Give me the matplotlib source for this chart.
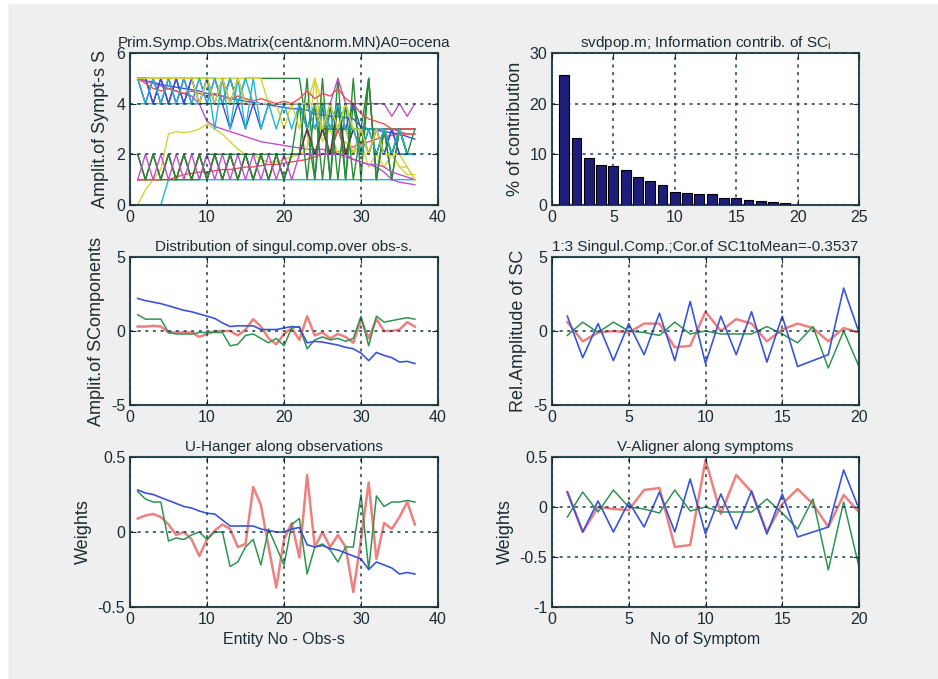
import numpy as np
import matplotlib
matplotlib.use("Agg")
import matplotlib.pyplot as plt
from matplotlib.patches import Rectangle

plt.rcParams["font.family"] = ["Liberation Sans", "DejaVu Sans"]
plt.rcParams["axes.unicode_minus"] = False
plt.rcParams["font.size"] = 11

# ---- data ----
obs = np.arange(1, 38)
sym = np.arange(1, 21)

# primary symptom-observation matrix, one list per symptom (20 x 37)
symptoms = [
    [5.0, 4.9, 4.85, 4.75, 4.7, 4.65, 4.6, 4.55, 4.5, 4.4, 4.35, 4.3, 4.2, 4.15, 4.1, 4.05, 4.0, 3.95, 3.9, 3.85, 3.8, 3.8, 3.75, 3.6, 3.55, 3.5, 3.5, 3.45, 3.4, 3.1, 3.0, 2.95, 2.9, 2.85, 2.8, 2.7, 2.6],
    [5, 5, 5, 5, 5, 5, 5, 5, 5, 5, 5, 4, 5, 4, 5, 5, 5, 5, 5, 5, 5, 5, 3, 1, 4, 1, 5, 1, 4, 2, 5, 1, 3, 2, 3, 2, 3],
    [1, 1, 1, 1, 1, 1.1, 1.2, 1.25, 1.3, 1.3, 1.35, 1.4, 1.4, 1.45, 1.5, 1.5, 1.55, 1.6, 1.6, 1.65, 1.7, 1.75, 1.8, 1.9, 2.0, 2.05, 2.1, 2.2, 2.3, 2.4, 2.5, 2.6, 2.7, 2.75, 2.8, 2.8, 2.8],
    [0, 0, 0, 0, 1, 1, 1, 1, 1, 1, 1, 1, 1, 1, 1, 1, 1, 1, 1, 1, 1, 1, 1, 1, 1, 1, 1, 1, 1, 1, 1, 1, 1, 1, 1, 1, 1],
    [5.0, 4.9, 4.8, 4.7, 4.6, 4.5, 4.4, 4.3, 4.0, 3.3, 3.1, 3.0, 2.9, 2.8, 2.7, 2.6, 2.5, 2.45, 2.4, 2.35, 2.3, 2.25, 2.2, 2.2, 2.2, 2.1, 2.0, 1.9, 1.8, 1.7, 1.6, 1.5, 1.3, 1.0, 0.9, 0.85, 0.8],
    [0, 0.6, 1.0, 1.4, 2.8, 2.9, 2.85, 2.9, 3.0, 3.2, 3.0, 2.8, 2.5, 2.2, 2.0, 2.0, 1.8, 1.7, 1.7, 1.8, 1.9, 2.0, 2.2, 5.0, 2.5, 3.0, 2.0, 2.5, 2.0, 2.5, 1.5, 2.0, 1.5, 2.0, 1.5, 1.2, 1.2],
    [5, 5, 4, 5, 4, 5, 4, 5, 4, 4, 4, 4, 4, 4, 4, 4, 4, 4, 4, 4, 4, 4, 3, 4, 3, 3, 3, 3, 3, 3, 3, 3, 3, 3, 3, 3, 3],
    [5, 4, 5, 4, 5, 4, 5, 4, 4, 5, 4, 4, 3, 4, 3, 4, 3, 4, 4, 4, 4, 4, 3, 2, 3, 2, 3, 3, 2, 3, 2, 3, 2, 3, 2, 2, 2],
    [1, 1, 1, 1, 1, 1, 1, 1, 1, 2, 2, 2, 2, 2, 2, 2, 2, 2, 2, 2, 2, 4, 1, 4, 1, 4, 1, 4, 1, 3, 5, 1, 3, 1, 3, 2, 2],
    [1, 1, 1, 1, 2, 1, 2, 1, 2, 1, 2, 1, 2, 1, 2, 1, 2, 1, 2, 1, 2, 2, 3, 2, 3, 2, 3, 2, 3, 3, 2, 3, 3, 2, 3, 3, 3],
    [4, 4, 4, 4, 4, 4, 4, 4, 4, 5, 3, 5, 3, 5, 3, 5, 3, 4, 3, 4, 3, 4, 3, 4, 3, 4, 3, 4, 3, 3, 3, 3, 3, 2, 3, 2, 2],
    [5, 4, 5, 4, 5, 4, 5, 4, 5, 4, 5, 4, 5, 4, 4, 4, 4, 4, 4, 4, 4, 4, 4, 4, 4, 4, 5, 4, 4, 4, 4, 4, 4, 3.5, 4, 3.5, 4],
    [5, 5, 5, 5, 5, 5, 5, 5, 5, 5, 5, 5, 5, 5, 5, 5, 5, 4, 4, 3, 4, 3, 4, 5, 4, 3, 4, 3, 2, 3, 2, 3, 2, 2, 1.5, 1.5, 1],
    [2, 1, 2, 1, 2, 1, 2, 1, 2, 1, 2, 1, 2, 1, 2, 1, 2, 1, 2, 1, 2, 2, 3, 2, 3, 2, 4, 2, 3, 2, 3, 2, 3, 2, 3, 2, 2],
    [5, 5, 4, 5, 4, 5, 4, 5, 4, 5, 4, 5, 4, 5, 4, 4, 4, 4, 4, 4, 4, 4, 4, 3, 4, 3, 4, 3, 4, 3, 2, 3, 2, 3, 2, 2, 2],
    [2, 1, 2, 1, 2, 1, 2, 1, 2, 1, 2, 1, 2, 1, 2, 1, 2, 1, 2, 1, 2, 2, 5, 1, 5, 1, 4, 1, 5, 1, 5, 1, 3, 1, 3, 2, 2],
    [5, 4.8, 4.6, 4.5, 4.6, 4.5, 4.4, 4.5, 4.4, 4.3, 4.4, 4.3, 4.2, 4.3, 4.2, 4.1, 4.2, 4.1, 4.0, 4.1, 4.0, 4.2, 4.5, 4.2, 4.4, 4.3, 4.6, 4.2, 4.0, 3.6, 3.4, 3.3, 3.2, 3.0, 2.9, 2.8, 2.8],
    [5, 4, 5, 4, 5, 4, 5, 4, 5, 4, 5, 4, 5, 4, 5, 4, 4, 4, 4, 4, 4, 4, 4, 3, 4, 3, 4, 3, 3, 2, 3, 2, 3, 2, 3, 2, 2],
    [1, 2, 1, 2, 1, 2, 1, 2, 1, 2, 1, 2, 1, 2, 1, 2, 1, 2, 1, 2, 1, 2, 2, 2, 2, 2, 2, 2, 1.8, 1.7, 1.6, 1.6, 1.5, 1.3, 1.2, 1.1, 1.0],
    [5, 5, 5, 5, 5, 5, 5, 5, 4, 5, 4, 5, 4, 5, 4, 4, 4, 4, 4, 4, 4, 4, 4, 4, 3, 4, 3, 4, 3, 3, 2, 3, 2, 2, 2, 1.5, 1.0],
]

contrib = [25.6, 13.2, 9.3, 7.8, 7.6, 6.9, 5.5, 4.8, 3.9, 2.6, 2.35, 2.1, 2.1, 1.3,
           1.3, 1.05, 0.8, 0.5, 0.3, 0.05]

sc1_obs = [2.2, 2.05, 1.95, 1.85, 1.7, 1.55, 1.4, 1.3, 1.15, 1.0, 0.85, 0.55, 0.3, 0.35,
           0.35, 0.35, 0.1, 0.1, 0.1, 0.2, 0.3, 0.25, -0.8, -0.7, -0.75, -0.85, -0.95,
           -1.1, -1.2, -1.5, -2.0, -1.45, -1.65, -1.8, -2.1, -2.05, -2.2]
sc2_obs = [1.1, 0.8, 0.8, 0.8, -0.1, -0.2, -0.2, -0.2, -0.1, -0.1, -0.1, -0.1, -1.0, -0.9,
           -0.3, -0.2, -0.5, -0.8, -0.5, -1.0, 0.2, 0.3, -1.2, -0.6, -0.4, -0.6, -0.5,
           -0.7, -0.5, 1.0, -1.0, 1.0, 0.6, 0.7, 0.8, 0.9, 0.8]
sc3_obs = [0.3, 0.3, 0.35, 0.3, -0.1, -0.1, -0.1, -0.1, -0.4, -0.2, 0.0, 0.0, 0.0, -0.3,
           0.1, 0.8, 0.3, -0.5, -0.9, -0.2, 0.2, -0.6, 1.0, -0.3, -0.1, -0.5, -0.2,
           -0.4, -0.8, 0.8, -0.5, 0.8, 0.0, 0.0, 0.1, 0.6, 0.3]

sc1_sym = [1.0, -1.8, 0.5, -2.0, 0.5, -1.6, 1.2, -2.0, 2.0, -2.2, 1.0, -1.6, 1.3, -2.1,
           1.0, -2.4, -2.0, -1.6, 2.9, -0.1]
sc2_sym = [-0.3, 0.6, -0.1, 0.6, 0.0, -0.1, -0.3, 0.6, -0.2, 0.0, -0.2, -0.2, -0.2, 0.3,
           -0.2, -0.8, 0.3, -2.5, 0.0, -2.4]
sc3_sym = [0.6, -0.7, -0.1, 0.0, -0.1, 0.5, 0.5, -1.1, -1.0, 1.3, 0.0, 0.8, 0.5, -0.7,
           0.1, 0.5, 0.2, -0.7, 0.2, -0.1]

u1 = [0.28, 0.26, 0.25, 0.23, 0.21, 0.19, 0.17, 0.16, 0.14, 0.125, 0.12, 0.08, 0.04, 0.04,
      0.04, 0.04, 0.02, 0.01, 0.0, 0.0, 0.02, 0.03, -0.085, -0.1, -0.09, -0.11, -0.12,
      -0.14, -0.16, -0.18, -0.25, -0.2, -0.22, -0.24, -0.28, -0.27, -0.28]
u2 = [0.27, 0.22, 0.2, 0.2, -0.06, -0.04, -0.05, -0.02, 0.0, -0.05, 0.0, 0.0, -0.23, -0.2,
      -0.1, -0.05, -0.22, 0.02, -0.1, -0.22, 0.05, 0.09, -0.28, -0.1, -0.08, -0.12, -0.2,
      -0.1, -0.1, 0.25, -0.25, 0.24, 0.17, 0.2, 0.2, 0.21, 0.2]
u3 = [0.09, 0.11, 0.12, 0.1, 0.05, -0.02, 0.0, -0.05, -0.16, -0.05, 0.01, 0.05, 0.02, -0.1,
      -0.08, 0.3, 0.18, -0.1, -0.37, -0.05, 0.06, -0.17, 0.38, -0.1, 0.0, -0.1, -0.02,
      -0.1, -0.4, -0.05, 0.33, -0.18, 0.06, 0.02, 0.1, 0.2, 0.05]

v1 = [0.15, -0.25, 0.06, -0.25, 0.05, -0.2, 0.15, -0.25, 0.28, -0.27, 0.13, -0.22, 0.16,
      -0.27, 0.13, -0.3, -0.25, -0.2, 0.37, -0.02]
v2 = [-0.1, 0.15, -0.05, 0.17, 0.0, -0.02, -0.06, 0.17, -0.04, 0.0, -0.05, -0.05, -0.05,
      0.08, -0.06, -0.22, 0.08, -0.63, 0.05, -0.6]
v3 = [0.15, -0.25, 0.0, -0.02, -0.03, 0.17, 0.19, -0.4, -0.38, 0.47, -0.07, 0.32, 0.15,
      -0.25, 0.03, 0.18, 0.03, -0.2, 0.12, -0.05]

# ---- styling ----
matlab_cycle = ["#3a50e0", "#2a8a3a", "#ec5050", "#20b8c8", "#c050c8", "#d4d430", "#404040"]
c_blue, c_green, c_red = "#3a55d8", "#2e9450", "#ee8080"
txt = "#1c2c34"
spine_c = "#2d4a50"
grid_c = "#1e3e4c"
ylab_size = 13

fig = plt.figure(figsize=(9.38, 6.79), dpi=100)
fig.patch.set_facecolor("#efefef")
fig.add_artist(Rectangle((0, 0), 7 / 938, 1, transform=fig.transFigure,
                         color="white", zorder=-1))
fig.add_artist(Rectangle((0, 1 - 3 / 679), 1, 3 / 679, transform=fig.transFigure,
                         color="white", zorder=-1))

W, H = 938, 679


def make_ax(x0, x1, y0, y1):
    return fig.add_axes([x0 / W, 1 - y1 / H, (x1 - x0) / W, (y1 - y0) / H])


def style(ax, xlim, xticks, ylim, yticks, ylabels=None):
    ax.set_xlim(xlim)
    ax.set_ylim(ylim)
    ax.set_xticks(xticks)
    ax.set_yticks(yticks)
    if ylabels is not None:
        ax.set_yticklabels(ylabels)
    ax.grid(True, linestyle=(0, (2, 3)), color=grid_c, linewidth=1.1)
    ax.tick_params(direction="in", length=4, colors=txt, labelsize=11.5,
                   top=True, right=True)
    for sp in ax.spines.values():
        sp.set_color(spine_c)
        sp.set_linewidth(1.5)
    ax.set_axisbelow(False)


# top-left: primary matrix
ax1 = make_ax(130, 438, 53, 205)
for i, s in enumerate(symptoms):
    ax1.plot(obs, s, color=matlab_cycle[i % 7], linewidth=1.0)
style(ax1, (0, 40), [0, 10, 20, 30, 40], (0, 6), [0, 2, 4, 6])
ax1.set_title("Prim.Symp.Obs.Matrix(cent&norm.MN)A0=ocena", color=txt, fontsize=11, pad=4)
ax1.set_ylabel("Amplit.of Sympt-s S", color=txt, fontsize=ylab_size, labelpad=5)

# top-right: contributions
ax2 = make_ax(552, 859, 53, 205)
ax2.bar(sym, contrib, width=0.8, color="#1e1e7a", edgecolor="black", linewidth=0.8,
        zorder=3)
style(ax2, (0, 25), [0, 5, 10, 15, 20, 25], (0, 30), [0, 10, 20, 30])
ax2.set_title("svdpop.m; Information contrib. of SC$_\\mathregular{i}$", color=txt,
              fontsize=11, pad=4)
ax2.set_ylabel("% of contribution", color=txt, fontsize=ylab_size)

# middle-left
ax3 = make_ax(130, 438, 257, 405)
ax3.plot(obs, sc3_obs, color=c_red, linewidth=1.8)
ax3.plot(obs, sc2_obs, color=c_green, linewidth=1.1)
ax3.plot(obs, sc1_obs, color=c_blue, linewidth=1.2)
style(ax3, (0, 40), [0, 10, 20, 30, 40], (-5, 5), [-5, 0, 5])
ax3.set_title("Distribution of singul.comp.over obs-s.", color=txt, fontsize=11, pad=4)
ax3.set_ylabel("Amplit.of SComponents", color=txt, fontsize=ylab_size)

# middle-right
ax4 = make_ax(552, 859, 257, 405)
ax4.plot(sym, sc3_sym, color=c_red, linewidth=1.8)
ax4.plot(sym, sc2_sym, color=c_green, linewidth=1.1)
ax4.plot(sym, sc1_sym, color=c_blue, linewidth=1.2)
style(ax4, (0, 20), [0, 5, 10, 15, 20], (-5, 5), [-5, 0, 5])
ax4.set_title("1:3 Singul.Comp.;Cor.of SC1toMean=-0.3537", color=txt, fontsize=11, pad=4)
ax4.set_ylabel("Rel.Amplitude of SC", color=txt, fontsize=ylab_size)

# bottom-left
ax5 = make_ax(130, 438, 457, 607)
ax5.plot(obs, u3, color=c_red, linewidth=1.8)
ax5.plot(obs, u2, color=c_green, linewidth=1.1)
ax5.plot(obs, u1, color=c_blue, linewidth=1.2)
style(ax5, (0, 40), [0, 10, 20, 30, 40], (-0.5, 0.5), [-0.5, 0, 0.5],
      ["-0.5", "0", "0.5"])
ax5.set_title("U-Hanger along observations", color=txt, fontsize=11, pad=4)
ax5.set_ylabel("Weights", color=txt, fontsize=ylab_size)
ax5.set_xlabel("Entity No - Obs-s", color=txt, fontsize=11.5)

# bottom-right
ax6 = make_ax(552, 859, 457, 607)
ax6.plot(sym, v3, color=c_red, linewidth=1.8)
ax6.plot(sym, v2, color=c_green, linewidth=1.1)
ax6.plot(sym, v1, color=c_blue, linewidth=1.2)
style(ax6, (0, 20), [0, 5, 10, 15, 20], (-1, 0.5), [-1, -0.5, 0, 0.5],
      ["-1", "-0.5", "0", "0.5"])
ax6.set_title("V-Aligner along symptoms", color=txt, fontsize=11, pad=4)
ax6.set_ylabel("Weights", color=txt, fontsize=ylab_size)
ax6.set_xlabel("No of Symptom", color=txt, fontsize=11.5)

fig.savefig("out.png", dpi=100, facecolor=fig.get_facecolor())
